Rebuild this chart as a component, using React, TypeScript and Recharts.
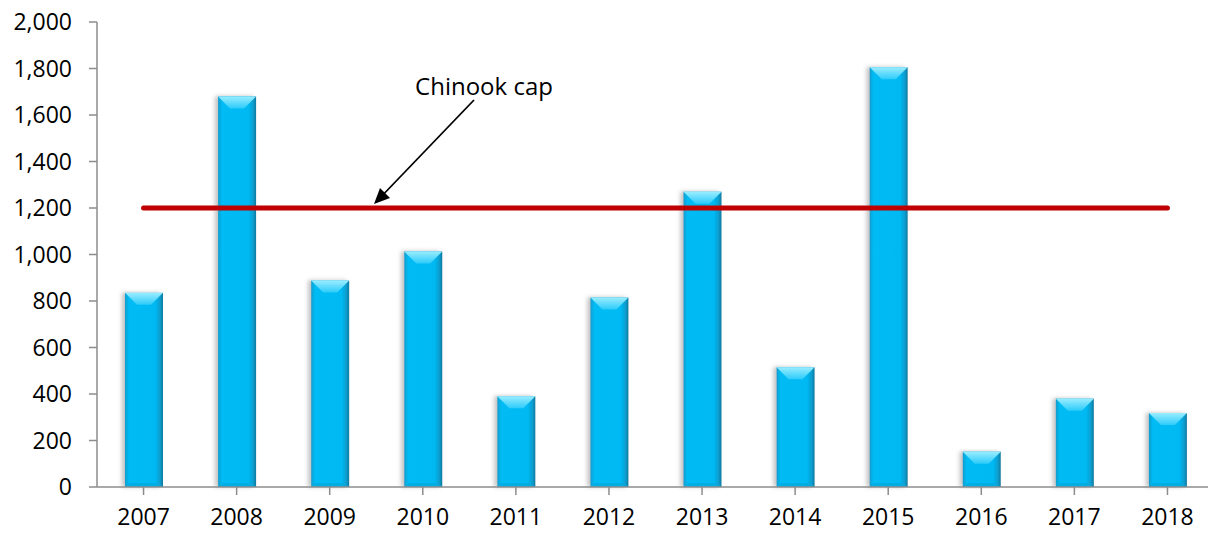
import React from "react";
import { ComposedChart, Bar, Line, XAxis, YAxis } from "recharts";

const years = ["2007","2008","2009","2010","2011","2012","2013","2014","2015","2016","2017","2018"];
const catch_ = [835, 1680, 888, 1013, 390, 815, 1270, 515, 1805, 152, 380, 318];
const capValue = 1200;
const yTicks = [0, 200, 400, 600, 800, 1000, 1200, 1400, 1600, 1800, 2000];
const annotationLabel = "Chinook cap";

const data = years.map((y, i) => ({ year: y, value: catch_[i], cap: capValue }));

const FONT = "'Open Sans', sans-serif";

const BevelBar = (props: any) => {
  const { x, y, width, height } = props;
  if (!height || height <= 0) return null;
  const b = Math.min(12, height / 2);
  return (
    <g filter="url(#barShadow)">
      <rect x={x} y={y} width={width} height={height} fill="url(#barBody)" />
      <polygon
        points={`${x},${y} ${x + width},${y} ${x + width - b},${y + b} ${x + b},${y + b}`}
        fill="url(#barTop)"
      />
      <polygon
        points={`${x},${y + height} ${x + width},${y + height} ${x + width - 4},${y + height - 4} ${x + 4},${y + height - 4}`}
        fill="#0AA6DA"
        opacity={0.6}
      />
    </g>
  );
};

export default function App() {
  return (
    <div style={{ position: "absolute", left: 0, top: 0, width: 1208, height: 533, background: "#fff", overflow: "hidden" }}>
      <ComposedChart
        width={1214}
        height={533}
        data={data}
        margin={{ top: 22, right: 0, bottom: 6, left: 0 }}
      >
        <defs>
          <linearGradient id="barBody" x1="0" y1="0" x2="1" y2="0">
            <stop offset="0" stopColor="#0E9CCB" />
            <stop offset="0.1" stopColor="#02BBF4" />
            <stop offset="0.8" stopColor="#00B9F2" />
            <stop offset="0.92" stopColor="#0A9ED0" />
            <stop offset="1" stopColor="#137BA0" />
          </linearGradient>
          <linearGradient id="barTop" x1="0" y1="0" x2="0" y2="1">
            <stop offset="0" stopColor="#9AEDFF" />
            <stop offset="1" stopColor="#2CCBFA" />
          </linearGradient>
          <filter id="barShadow" x="-30%" y="-5%" width="160%" height="110%">
            <feDropShadow dx="-3" dy="0" stdDeviation="2" floodColor="#777" floodOpacity="0.45" />
          </filter>
        </defs>
        <XAxis
          dataKey="year"
          axisLine={{ stroke: "#8c8c8c", strokeWidth: 1.5 }}
          tickLine={{ stroke: "#8c8c8c", strokeWidth: 1.5 }}
          tickSize={8}
          tickMargin={14}
          height={40}
          interval={0}
          tick={{ fill: "#000", fontSize: 23, fontFamily: FONT }}
        />
        <YAxis
          domain={[0, 2000]}
          ticks={yTicks}
          width={97}
          axisLine={{ stroke: "#8c8c8c", strokeWidth: 1.5 }}
          tickLine={{ stroke: "#8c8c8c", strokeWidth: 1.5 }}
          tickSize={8}
          tickMargin={17}
          interval={0}
          tickFormatter={(v: number) => v.toLocaleString("en-US")}
          tick={{ fill: "#000", fontSize: 23, fontFamily: FONT }}
        />
        <Bar dataKey="value" barSize={38} shape={<BevelBar />} isAnimationActive={false} />
        <Line
          dataKey="cap"
          stroke="#C00000"
          strokeWidth={5}
          strokeLinecap="round"
          dot={false}
          activeDot={false}
          isAnimationActive={false}
        />
      </ComposedChart>
      <svg
        width={1208}
        height={533}
        style={{ position: "absolute", left: 0, top: 0, pointerEvents: "none" }}
      >
        <text x={484} y={95} textAnchor="middle" fontFamily={FONT} fontSize={24} fill="#000">
          {annotationLabel}
        </text>
        <line x1={474} y1={100} x2={377} y2={201} stroke="#000" strokeWidth={1.8} />
        <path d="M374,204 L380,188 L390,198 z" fill="#000" />
      </svg>
    </div>
  );
}
